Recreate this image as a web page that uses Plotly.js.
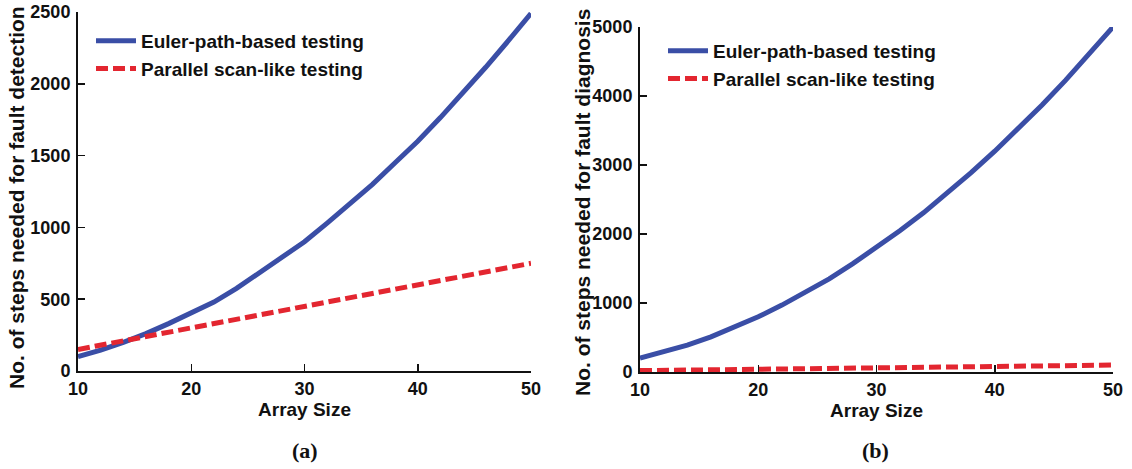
<!DOCTYPE html>
<html>
<head>
<meta charset="utf-8">
<script src="https://cdn.plot.ly/plotly-3.0.1.min.js"></script>
<style>html,body{margin:0;padding:0;background:#fff;}#chart{width:1132px;height:469px;}</style>
</head>
<body>
<div id="chart"></div>
<script>
const arraySize = [10,12,14,16,18,20,22,24,26,28,30,32,34,36,38,40,42,44,46,48,50];
const eulerDetection = [100,145,200,260,330,405,480,575,680,785,900,1030,1160,1300,1450,1600,1765,1935,2115,2300,2490];
const parallelDetection = [150,180,210,240,270,300,330,360,390,420,450,480,510,540,570,600,630,660,690,720,750];
const eulerDiagnosis = [200,290,390,510,650,800,970,1150,1350,1570,1800,2050,2310,2590,2890,3200,3530,3870,4230,4610,5000];
const parallelDiagnosis = [20,24,28,32,36,40,44,48,52,56,60,64,68,72,76,80,84,88,92,96,100];
const seriesNames = ["Euler-path-based testing", "Parallel scan-like testing"];
const xTicks = [10,20,30,40,50];
const yTicksA = [0,500,1000,1500,2000,2500];
const yTicksB = [0,1000,2000,3000,4000,5000];

const W = 1132, H = 469;
const BLUE = "#3a4ea6", RED = "#e32630";
const FONT = "Liberation Sans, Arial, sans-serif";
const blueLine = {color: BLUE, width: 5};
const redLine = {color: RED, width: 5, dash: "12px,5px"};

const traces = [
  {x: arraySize, y: eulerDetection, name: seriesNames[0], mode: "lines", line: blueLine, xaxis: "x", yaxis: "y", legend: "legend"},
  {x: arraySize, y: parallelDetection, name: seriesNames[1], mode: "lines", line: redLine, xaxis: "x", yaxis: "y", legend: "legend"},
  {x: arraySize, y: eulerDiagnosis, name: seriesNames[0], mode: "lines", line: blueLine, xaxis: "x2", yaxis: "y2", legend: "legend2"},
  {x: arraySize, y: parallelDiagnosis, name: seriesNames[1], mode: "lines", line: redLine, xaxis: "x2", yaxis: "y2", legend: "legend2"}
];

const tickFont = {family: FONT, size: 18, color: "#111", weight: "bold"};
function xAxis(dom, anchor){
  return {domain: dom, anchor: anchor, range: [10,50], tickvals: xTicks, ticks: "inside", ticklen: 7, tickwidth: 1.5,
    tickcolor: "#111", showline: true, linecolor: "#111", linewidth: 2, showgrid: false, zeroline: false,
    tickfont: tickFont, title: {text: "<b>Array Size</b>", font: {family: FONT, size: 19, color: "#111"}, standoff: 4}};
}
function yAxis(dom, anchor, range, vals){
  return {domain: dom, anchor: anchor, range: range, tickvals: vals, ticks: "inside", ticklen: 7, tickwidth: 1.5,
    tickcolor: "#111", showline: true, linecolor: "#111", linewidth: 2, showgrid: false, zeroline: false,
    tickfont: tickFont, ticklabelstandoff: 2};
}
const legendFont = {family: FONT, size: 19, color: "#111", weight: "bold"};

const layout = {
  width: W, height: H, margin: {l: 0, r: 0, t: 0, b: 0}, paper_bgcolor: "#fff", plot_bgcolor: "#fff",
  xaxis: xAxis([78/W, 531/W], "y"),
  yaxis: yAxis([(H-371)/H, (H-12)/H], "x", [0,2500], yTicksA),
  xaxis2: xAxis([640/W, 1113/W], "y2"),
  yaxis2: yAxis([(H-372)/H, (H-27)/H], "x2", [0,5000], yTicksB),
  legend: {x: 91/W, y: 1-22/H, xanchor: "left", yanchor: "top", bgcolor: "rgba(0,0,0,0)",
    font: legendFont, tracegroupgap: 0, itemwidth: 40},
  legend2: {x: 663/W, y: 1-32/H, xanchor: "left", yanchor: "top", bgcolor: "rgba(0,0,0,0)",
    font: legendFont, tracegroupgap: 0, itemwidth: 40},
  annotations: [
    {text: "<b>No. of steps needed for fault detection</b>", textangle: -90, xref: "paper", yref: "paper",
      x: 16/W, y: 1-198/H, xanchor: "center", yanchor: "middle", showarrow: false, font: {family: FONT, size: 21, color: "#111"}},
    {text: "<b>No. of steps needed for fault diagnosis</b>", textangle: -90, xref: "paper", yref: "paper",
      x: 583/W, y: 1-203/H, xanchor: "center", yanchor: "middle", showarrow: false, font: {family: FONT, size: 21, color: "#111"}},
    {text: "<b>(a)</b>", xref: "paper", yref: "paper", x: 305/W, y: 1-450/H, xanchor: "center", yanchor: "middle",
      showarrow: false, font: {family: "Liberation Serif, Times New Roman, serif", size: 22, color: "#111"}},
    {text: "<b>(b)</b>", xref: "paper", yref: "paper", x: 876/W, y: 1-450/H, xanchor: "center", yanchor: "middle",
      showarrow: false, font: {family: "Liberation Serif, Times New Roman, serif", size: 22, color: "#111"}}
  ]
};

Plotly.newPlot("chart", traces, layout, {displayModeBar: false, staticPlot: true});
</script>
</body>
</html>
